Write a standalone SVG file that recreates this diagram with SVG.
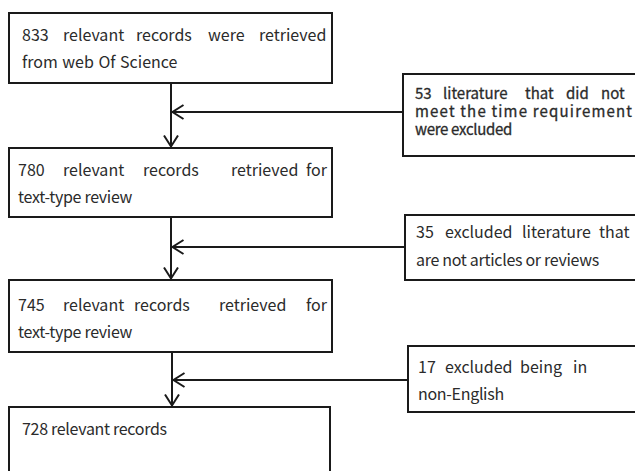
<svg xmlns="http://www.w3.org/2000/svg" width="635" height="471" viewBox="0 0 635 471">
<defs>
<style>
.box{fill:#fff;stroke:#1a1a1a;stroke-width:2}
.t{font-family:"Noto Sans CJK SC","Noto Sans","Liberation Sans",sans-serif;font-size:16px;fill:#2b2b2b}
.s{font-size:15px;stroke:#2b2b2b;stroke-width:0.3}
.c{letter-spacing:-0.3px}
.ln{fill:none;stroke:#1a1a1a;stroke-width:2}
</style>
<marker id="chev" viewBox="0 0 14 16" refX="12.5" refY="8" markerWidth="14" markerHeight="16" markerUnits="userSpaceOnUse" orient="auto">
<path d="M1,1 L12,8 L1,15" fill="none" stroke="#1a1a1a" stroke-width="2"/>
</marker>
</defs>
<rect width="635" height="471" fill="#fff"/>
<g id="n1">
<rect class="box" x="9" y="13" width="323" height="70"/>
<text class="t" y="41"><tspan x="22">833</tspan><tspan x="63">relevant</tspan><tspan x="136">records</tspan><tspan x="208">were</tspan><tspan x="259">retrieved</tspan></text>
<text class="t" x="22" y="68" word-spacing="1">from web Of Science</text>
</g>
<g id="n2">
<rect class="box" x="403" y="74" width="240" height="82"/>
<text class="t s" y="99"><tspan x="415">53</tspan><tspan x="443">literature</tspan><tspan x="525">that</tspan><tspan x="566">did</tspan><tspan x="601">not</tspan></text>
<text class="t s" x="415" y="117" textLength="217" lengthAdjust="spacing">meet the time requirement</text>
<text class="t s c" x="415" y="135">were excluded</text>
</g>
<g id="n3">
<rect class="box" x="9" y="148" width="323" height="69"/>
<text class="t" y="176"><tspan x="18">780</tspan><tspan x="63">relevant</tspan><tspan x="143">records</tspan><tspan x="231">retrieved</tspan><tspan x="306">for</tspan></text>
<text class="t c" x="18" y="203">text-type review</text>
</g>
<g id="n4">
<rect class="box" x="405" y="215" width="240" height="65"/>
<text class="t" y="238"><tspan x="416">35</tspan><tspan x="445">excluded</tspan><tspan x="522">literature</tspan><tspan x="599">that</tspan></text>
<text class="t c" x="416" y="266">are not articles or reviews</text>
</g>
<g id="n5">
<rect class="box" x="9" y="280" width="323" height="72"/>
<text class="t" y="311"><tspan x="18">745</tspan><tspan x="63">relevant</tspan><tspan x="134">records</tspan><tspan x="219">retrieved</tspan><tspan x="306">for</tspan></text>
<text class="t c" x="18" y="338">text-type review</text>
</g>
<g id="n6">
<rect class="box" x="408" y="346" width="240" height="66"/>
<text class="t" y="373"><tspan x="418">17</tspan><tspan x="445">excluded</tspan><tspan x="520">being</tspan><tspan x="573">in</tspan></text>
<text class="t c" x="418" y="400">non-English</text>
</g>
<g id="n7">
<rect class="box" x="9" y="407" width="321" height="80"/>
<text class="t c" x="22" y="435">728 relevant records</text>
</g>
<g id="connectors">
<line class="ln" x1="171" y1="83" x2="171" y2="147" marker-end="url(#chev)"/>
<line class="ln" x1="403" y1="112" x2="172" y2="112" marker-end="url(#chev)"/>
<line class="ln" x1="171" y1="217" x2="171" y2="279" marker-end="url(#chev)"/>
<line class="ln" x1="405" y1="247" x2="172" y2="247" marker-end="url(#chev)"/>
<line class="ln" x1="172" y1="352" x2="172" y2="406" marker-end="url(#chev)"/>
<line class="ln" x1="408" y1="380" x2="173" y2="380" marker-end="url(#chev)"/>
</g>
</svg>
